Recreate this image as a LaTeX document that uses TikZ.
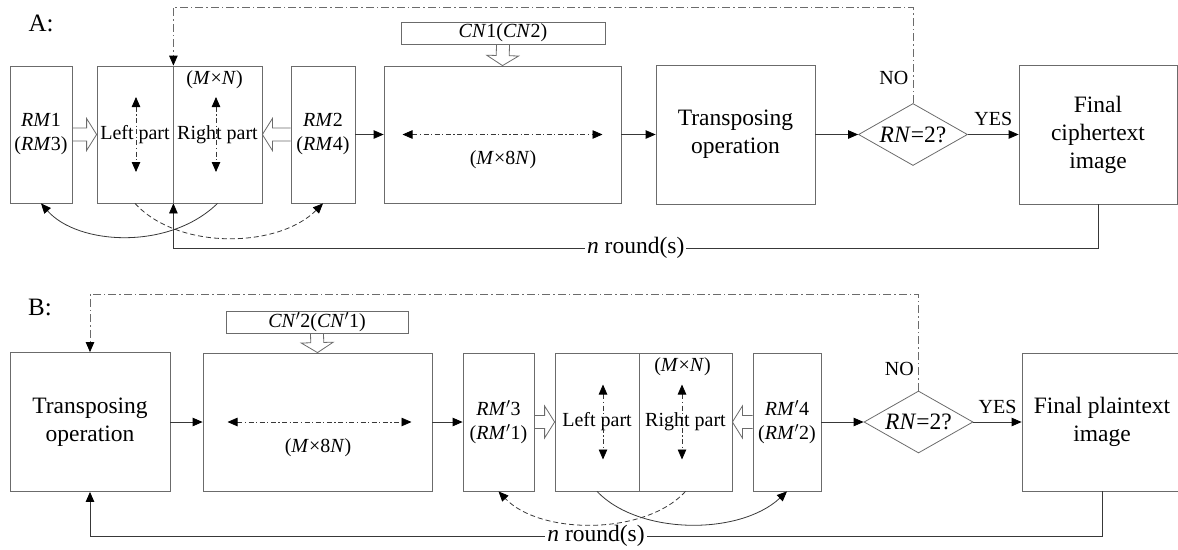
\documentclass[tikz,border=0pt]{standalone}
\usepackage{fontspec}
\setmainfont{Liberation Serif}
\usetikzlibrary{calc,arrows.meta,shapes.geometric}

\definecolor{boxc}{gray}{0.42}
\definecolor{linec}{gray}{0.22}

% prime used in the decryption labels
\newcommand\pr{$'$}

% open block arrow from the first named point to the second one
\newcommand\hollowarrow[2]{%
  \coordinate (ha-b) at ($(#2)!10pt!(#1)$);
  \draw[hollow] ($(#1)!6.5pt!90:(#2)$) -- ($(ha-b)!6.5pt!-90:(#1)$)
    -- ($(ha-b)!16pt!-90:(#1)$) -- (#2) -- ($(ha-b)!16pt!90:(#1)$)
    -- ($(ha-b)!6.5pt!90:(#1)$) -- ($(#1)!6.5pt!-90:(#2)$);
}

\begin{document}
\begin{tikzpicture}[x=1pt,y=-1pt,
  tip/.style={-{Triangle[length=10pt,width=8.5pt,color=black]}},
  box/.style={draw=boxc, line width=0.8pt, rectangle, inner sep=0pt, align=center,
    font=\fontsize{20}{24}\selectfont},
  bigtxt/.style={font=\fontsize{23.5}{28}\selectfont, align=center},
  smalltxt/.style={font=\fontsize{20}{24}\selectfont, align=center},
  conn/.style={draw=linec, line width=0.8pt, tip},
  loopline/.style={draw=linec, line width=0.8pt, tip},
  noline/.style={draw=boxc, line width=0.8pt, tip,
    dash pattern=on 8pt off 3pt on 1.5pt off 3pt},
  swap/.style={draw=linec, line width=0.8pt,
    {Triangle[length=10pt,width=8.5pt,color=black]}-{Triangle[length=10pt,width=8.5pt,color=black]},
    dash pattern=on 5pt off 2.5pt on 1.2pt off 2.5pt},
  curvesolid/.style={draw=linec, line width=0.8pt, tip},
  curvedash/.style={draw=linec, line width=0.8pt, tip, dash pattern=on 5pt off 3pt},
  hollow/.style={draw=boxc, line width=0.8pt},
  dia/.style={diamond, draw=boxc, line width=0.8pt, inner sep=0pt,
    minimum width=109pt, minimum height=62pt},
  lbl/.style={fill=white, inner sep=2pt, font=\fontsize{23.5}{28}\selectfont}
]
\useasboundingbox (0,0) rectangle (1178,549);

% ---------------- A: encryption ----------------
\node[smalltxt, font=\fontsize{25}{28}\selectfont] (labA) at (41,23) {A:};

\node[box, minimum width=62pt, minimum height=137pt] (rm1) at (41,134.5)
  {\textit{RM}1\\(\textit{RM}3)};
\node[box, minimum width=76pt, minimum height=137pt] (lrL) at (135,134.5) {Left part};
\node[box, minimum width=89pt, minimum height=137pt] (lrR) at (217.5,134.5) {Right part};
\node[smalltxt] (dimA) at ($(lrR.north)+(-3,14)$) {(\textit{M}×\textit{N})};
\node[box, minimum width=64pt, minimum height=137pt] (rm2) at (323,134.5)
  {\textit{RM}2\\(\textit{RM}4)};
\node[box, minimum width=237pt, minimum height=137pt] (big) at (502.5,134.5) {};
\node[box, minimum width=204pt, minimum height=22pt] (cn) at (503,33)
  {\textit{CN}1(\textit{CN}2)};
\node[smalltxt] (dimB) at (503,160) {(\textit{M}×8\textit{N})};
\node[box, bigtxt, minimum width=159pt, minimum height=139pt] (tr) at (735.5,134.5)
  {Transposing\\operation};
\node[dia] (rn) at (913,134.5) {};
\node[bigtxt] (rnt) at (rn.center) {\textit{RN}=2?};
\node[box, bigtxt, minimum width=158pt, minimum height=139pt] (fin) at (1098,134.5)
  {Final\\ciphertext\\image};

% swapping arrows inside the blocks
\draw[swap] ($(lrL.center)+(1,-37.5)$) -- ($(lrL.center)+(1,37.5)$);
\draw[swap] ($(lrR.center)+(-1.5,-37.5)$) -- ($(lrR.center)+(-1.5,37.5)$);
\draw[swap] ($(big.center)+(-100,0)$) -- ($(big.center)+(100,0)$);

% block arrows
\hollowarrow{rm1.east}{lrL.west}
\hollowarrow{rm2.west}{lrR.east}
\hollowarrow{cn.south}{big.north}

% main flow
\draw[conn] (rm2.east) -- (big.west);
\draw[conn] (big.east) -- (tr.west);
\draw[conn] (tr.east) -- (rn.west);
\draw[conn] (rn.east) -- node[smalltxt, above=5pt] {YES} (fin.west);
\draw[noline] (rn.north) -- node[smalltxt, pos=0.26, left=1pt] {NO}
  (rn.north |- 0,7) -| (lrL.north east);
\draw[loopline] (fin.south) -- (fin.south |- 0,248)
  -| node[lbl, pos=0.25] {\textit{n} round(s)} (lrL.south east);

% exchange curves
\draw[curvesolid] (lrR.south) .. controls +(-48,47) and +(37,42) .. (rm1.south);
\draw[curvedash] (lrL.south) .. controls +(43,47) and +(-45,45) .. (rm2.south);

% ---------------- B: decryption ----------------
\node[smalltxt, font=\fontsize{25}{28}\selectfont] (labB) at (40,307) {B:};

\node[box, bigtxt, minimum width=160pt, minimum height=139pt] (tr2) at (90,422)
  {Transposing\\operation};
\node[box, minimum width=229pt, minimum height=138pt] (big2) at (317.5,422) {};
\node[box, minimum width=182pt, minimum height=22pt] (cn2) at (317,322)
  {\textit{CN}\pr2(\textit{CN}\pr1)};
\node[smalltxt] (dimC) at (318,448) {(\textit{M}×8\textit{N})};
\node[box, minimum width=71pt, minimum height=138pt] (rm3) at (498.5,422)
  {\textit{RM}\pr3\\(\textit{RM}\pr1)};
\node[box, minimum width=84pt, minimum height=138pt] (lrL2) at (597,422) {Left part};
\node[box, minimum width=93pt, minimum height=138pt] (lrR2) at (685.5,422) {Right part};
\node[smalltxt] (dimD) at ($(lrR2.north)+(-3,14)$) {(\textit{M}×\textit{N})};
\node[box, minimum width=68pt, minimum height=138pt] (rm4) at (787,422)
  {\textit{RM}\pr4\\(\textit{RM}\pr2)};
\node[dia] (rn2) at (918.5,422) {};
\node[bigtxt] (rnt2) at (rn2.center) {\textit{RN}=2?};
\node[box, bigtxt, minimum width=160pt, minimum height=138pt] (fin2) at (1102,422)
  {Final plaintext\\image};

% swapping arrows inside the blocks
\draw[swap] ($(lrL2.center)+(6,-37.5)$) -- ($(lrL2.center)+(6,37.5)$);
\draw[swap] ($(lrR2.center)+(-3.5,-37.5)$) -- ($(lrR2.center)+(-3.5,37.5)$);
\draw[swap] ($(big2.center)+(-90,0)$) -- ($(big2.center)+(94,0)$);

% block arrows
\hollowarrow{rm3.east}{lrL2.west}
\hollowarrow{rm4.west}{lrR2.east}
\hollowarrow{cn2.south}{big2.north}

% main flow
\draw[conn] (tr2.east) -- (big2.west);
\draw[conn] (big2.east) -- (rm3.west);
\draw[conn] (rm4.east) -- (rn2.west);
\draw[conn] (rn2.east) -- node[smalltxt, above=5pt] {YES} (fin2.west);
\draw[noline] (rn2.north) -- node[smalltxt, pos=0.22, left=1pt] {NO}
  (rn2.north |- 0,294) -| (tr2.north);
\draw[loopline] (fin2.south) -- (fin2.south |- 0,536)
  -| node[lbl, pos=0.25] {\textit{n} round(s)} (tr2.south);

% exchange curves
\draw[curvesolid] (lrL2.south) .. controls +(42,44) and +(-47,44) .. (rm4.south);
\draw[curvedash] (lrR2.south) .. controls +(-40,44) and +(42,44) .. (rm3.south);
\end{tikzpicture}
\end{document}
